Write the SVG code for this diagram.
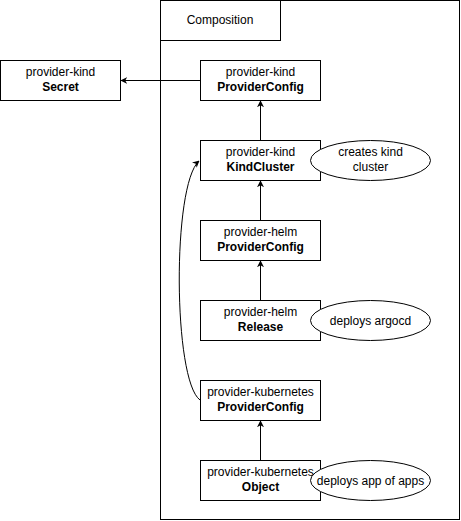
<svg xmlns="http://www.w3.org/2000/svg" width="461" height="521" viewBox="0 0 461 521">
<defs>
<style>
.box{fill:#fff;stroke:#000;stroke-width:1}
.t{font-family:"Liberation Sans",Arial,sans-serif;font-size:12px;fill:#000;text-anchor:middle}
.b{font-weight:bold}
.c{fill:none;stroke:#000;stroke-width:1}
</style>
<marker id="ah" viewBox="0 0 10 10" refX="9" refY="5" markerWidth="7" markerHeight="7" orient="auto" markerUnits="userSpaceOnUse">
<path d="M0,0 L10,5 L0,10 L3,5 Z" fill="#000"/>
</marker>
</defs>
<rect width="461" height="521" fill="#fff"/>
<g id="composition">
<rect class="box" x="160.5" y="0.5" width="299" height="519"/>
<rect class="box" x="160.5" y="0.5" width="120" height="40"/>
<text class="t" x="220" y="24">Composition</text>
</g>
<g id="connectors">
<path class="c" d="M200,80.5 L121,80.5" marker-end="url(#ah)"/>
<path class="c" d="M260.5,140 L260.5,101" marker-end="url(#ah)"/>
<path class="c" d="M260.5,220 L260.5,181" marker-end="url(#ah)"/>
<path class="c" d="M260.5,300 L260.5,261" marker-end="url(#ah)"/>
<path class="c" d="M260.5,460 L260.5,421" marker-end="url(#ah)"/>
<path class="c" d="M200,400 C173,380 172,185 199,161" marker-end="url(#ah)"/>
</g>
<g id="secret">
<rect class="box" x="0.5" y="60.5" width="120" height="40"/>
<text class="t" x="60.5" y="76">provider-kind</text>
<text class="t b" x="60.5" y="91">Secret</text>
</g>
<g id="kind-providerconfig">
<rect class="box" x="200.5" y="60.5" width="120" height="40"/>
<text class="t" x="260.5" y="76">provider-kind</text>
<text class="t b" x="260.5" y="91">ProviderConfig</text>
</g>
<g id="kindcluster">
<rect class="box" x="200.5" y="140.5" width="120" height="40"/>
<text class="t" x="260.5" y="156">provider-kind</text>
<text class="t b" x="260.5" y="171">KindCluster</text>
</g>
<g id="note-kind">
<ellipse class="box" cx="370.5" cy="160.5" rx="60" ry="20"/>
<text class="t" x="370.5" y="156">creates kind</text>
<text class="t" x="370.5" y="171">cluster</text>
</g>
<g id="helm-providerconfig">
<rect class="box" x="200.5" y="220.5" width="120" height="40"/>
<text class="t" x="260.5" y="236">provider-helm</text>
<text class="t b" x="260.5" y="251">ProviderConfig</text>
</g>
<g id="helm-release">
<rect class="box" x="200.5" y="300.5" width="120" height="40"/>
<text class="t" x="260.5" y="316">provider-helm</text>
<text class="t b" x="260.5" y="331">Release</text>
</g>
<g id="note-argocd">
<ellipse class="box" cx="370.5" cy="320.5" rx="60" ry="20"/>
<text class="t" x="370.5" y="324.5">deploys argocd</text>
</g>
<g id="k8s-providerconfig">
<rect class="box" x="200.5" y="380.5" width="120" height="40"/>
<text class="t" x="260.5" y="396">provider-kubernetes</text>
<text class="t b" x="260.5" y="411">ProviderConfig</text>
</g>
<g id="k8s-object">
<rect class="box" x="200.5" y="460.5" width="120" height="40"/>
<text class="t" x="260.5" y="476">provider-kubernetes</text>
<text class="t b" x="260.5" y="491">Object</text>
</g>
<g id="note-apps">
<ellipse class="box" cx="370.5" cy="480.5" rx="60" ry="20"/>
<text class="t" x="370.5" y="484.5">deploys app of apps</text>
</g>
</svg>
